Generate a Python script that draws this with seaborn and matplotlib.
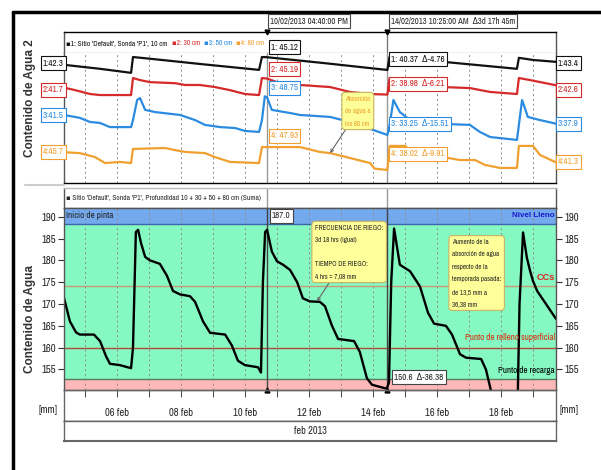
import numpy as np
import pandas as pd
import seaborn as sns
import matplotlib.dates as mdates
from matplotlib import pyplot as plt
from matplotlib import font_manager
from matplotlib.lines import Line2D

# time = fractional day of February 2013
t_10 = [4.34, 5.47, 6.44, 6.50, 7.00, 8.60, 10.44, 10.53, 10.69, 12.50, 14.45, 14.52,
        16.20, 18.50, 18.56, 19.00, 19.72]
v_10 = [42.3, 40.8, 39.3, 45.2, 44.6, 42.6, 40.4, 45.2, 45.12, 42.9, 40.37, 45.3,
        43.4, 40.8, 44.9, 44.1, 43.4]

t_30 = [4.34, 4.69, 5.16, 5.47, 6.44, 6.50, 6.72, 7.03, 7.81, 8.13, 8.59, 9.06, 9.53,
        10.00, 10.44, 10.53, 10.69, 11.09, 11.72, 12.66, 13.28, 13.91, 14.45, 14.52,
        14.84, 15.47, 16.19, 17.03, 17.66, 18.50, 18.56, 18.91, 19.72]
v_30 = [41.7, 40.7, 39.2, 38.8, 38.8, 45.4, 44.6, 43.8, 43.4, 42.7, 42.7, 41.9, 40.7,
        39.2, 38.8, 45.4, 45.19, 43.4, 42.7, 41.9, 40.0, 39.2, 38.98, 45.4,
        44.6, 43.1, 41.9, 41.5, 40.0, 39.2, 45.4, 44.6, 42.6]

t_50 = [4.34, 4.84, 5.16, 5.47, 5.78, 6.44, 6.50, 6.63, 6.72, 6.88, 7.19, 7.97, 8.44,
        8.75, 9.22, 9.69, 10.00, 10.44, 10.53, 10.62, 10.69, 10.84, 11.41, 11.72, 12.66,
        13.28, 13.75, 14.45, 14.52, 14.64, 14.84, 15.16, 16.19, 17.03, 17.34, 17.66,
        18.50, 18.56, 18.66, 18.84, 19.22, 19.72]
v_50 = [41.5, 40.3, 38.6, 38.2, 36.5, 36.5, 39.4, 47.7, 48.5, 43.6, 42.7, 41.5, 39.4,
        37.4, 36.5, 36.1, 34.9, 34.5, 39.4, 49.2, 48.75, 43.6, 42.3, 41.5, 40.7,
        38.6, 36.5, 33.25, 37.4, 47.7, 42.7, 39.4, 37.8, 37.4, 34.5, 32.4,
        31.2, 37.4, 47.7, 40.7, 39.4, 37.9]

t_80 = [4.34, 4.84, 5.31, 5.63, 6.09, 6.44, 6.50, 7.50, 7.81, 8.13, 8.75, 9.06, 9.53,
        10.44, 10.53, 11.72, 12.34, 12.66, 13.28, 13.91, 14.05, 14.45, 14.52, 15.00,
        15.22, 16.19, 16.72, 17.19, 17.50, 17.97, 18.50, 18.56, 19.00, 19.22, 19.72]
v_80 = [45.7, 45.3, 43.6, 41.0, 41.5, 41.0, 47.1, 47.5, 46.6, 45.8, 45.3, 43.6, 41.5,
        41.0, 47.9, 47.9, 45.8, 45.3, 43.2, 41.0, 38.6, 38.02, 48.4, 48.4,
        45.8, 43.6, 42.3, 42.3, 40.2, 38.9, 38.9, 48.4, 48.4, 44.5, 41.3]

t_sum = [4.34, 4.53, 4.72, 4.84, 5.28, 5.47, 5.66, 5.78, 6.09, 6.44,
         6.50, 6.59, 6.66, 6.75, 6.88, 7.03, 7.34, 7.56, 7.75, 7.97,
         8.28, 8.44, 8.69, 8.91, 9.38, 9.59, 9.78, 10.00, 10.41, 10.50,
         10.56, 10.63, 10.69, 10.84, 11.00, 11.19, 11.41, 11.63, 11.81, 12.03,
         12.34, 12.50, 12.72, 12.91, 13.41, 13.59, 13.81, 13.97, 14.43, 14.50,
         14.57, 14.66, 14.84, 15.16, 15.47, 15.72, 15.91, 16.28, 16.47, 16.72,
         16.91, 17.38, 17.53, 17.66, 17.75, 18.52, 18.58, 18.69, 18.81, 18.91,
         19.00, 19.13, 19.38, 19.72]
v_sum = [171.5, 166.0, 163.5, 163.0, 163.0, 161.5, 158.0, 156.3, 156.0, 155.3,
         160.0, 186.5, 187.0, 184.0, 180.8, 180.0, 179.2, 176.5, 173.0, 172.2,
         171.8, 170.5, 166.0, 163.4, 163.0, 160.5, 157.0, 156.0, 155.5, 154.3,
         175.0, 186.5, 187.0, 182.0, 179.8, 179.0, 177.8, 175.0, 171.3, 170.6,
         170.5, 169.5, 165.0, 162.0, 161.5, 159.0, 153.0, 151.5, 150.6, 152.0,
         175.0, 187.3, 179.0, 177.5, 174.0, 168.0, 165.5, 165.0, 163.0, 158.5,
         157.7, 157.4, 155.0, 151.0, 148.0, 147.0, 170.0, 186.4, 180.6, 177.6,
         175.3, 173.0, 170.3, 166.6]

depths = ["10 cm", "30 cm", "50 cm", "80 cm"]
first_read = [42.3, 41.7, 41.5, 45.7]
cursor1_read = [45.12, 45.19, 48.75, 47.93]
cursor2_read = [40.37, 38.98, 33.25, 38.02]
cursor_delta = [-4.76, -6.21, -15.51, -9.91]
last_read = [43.4, 42.6, 37.9, 41.3]
sum_cursor1, sum_cursor2, sum_delta = 187.0, 150.6, -36.38

cursor1_day = 10 + (16 + 40 / 60) / 24
cursor2_day = 14 + (10 + 25 / 60) / 24

# thresholds of the sum panel (mm)
recarga, relleno, ccs, lleno = 152.8, 160.0, 174.1, 188.4

# ---------------- style / layout ----------------
sns.set_style("white")

# look for a narrow face (the original uses Arial Narrow)
NARROW, STRETCH, K = "Liberation Sans", "normal", 0.82
for f in font_manager.fontManager.ttflist:
    st = str(f.stretch)
    if "Narrow" in f.name or "Condensed" in f.name or st in ("condensed", "semi-condensed", "extra-condensed"):
        NARROW, STRETCH, K = f.name, st if not st.isdigit() else "normal", 1.0
        if "Narrow" in f.name:
            break
plt.rcParams["font.family"] = [NARROW, "DejaVu Sans"]
plt.rcParams["font.stretch"] = STRETCH
BOLD = ["Liberation Sans", "DejaVu Sans"]

colors = ["#111111", "#D42A2A", "#2B8BE0", "#F0A030"]
# y range of each depth trace inside the top panel (own scale per trace)
top_ylims = [(-1.8, 46.7), (4.7, 55.1), (13.4, 67.1), (32.4, 88.5)]

W, H = 601, 470
fig = plt.figure(figsize=(W / 100, H / 100), dpi=100)


def rect(x0, y0, x1, y1):
    return [x0 / W, 1 - y1 / H, (x1 - x0) / W, (y1 - y0) / H]


def fx(x):
    return x / W


def fy(y):
    return 1 - y / H


def days(d):
    return pd.Timestamp("2013-02-01") + pd.to_timedelta(np.asarray(d, dtype=float) - 1.0, unit="D")


XLIM = (days(4.344), days(19.72))
C1, C2 = days(cursor1_day), days(cursor2_day)
grid_kw = dict(color="#8a8a8a", linestyle=(0, (2, 3)), linewidth=0.7)


def frame(ax, color="#555555"):
    for s in ax.spines.values():
        s.set_color(color)
        s.set_linewidth(1)
    ax.set_xticks([])
    ax.set_yticks([])
    ax.set_xlim(*XLIM)


# ---------------- top panel ----------------
ax_tl = fig.add_axes(rect(64, 32, 556, 53))
frame(ax_tl)
ax_tl.spines["top"].set_color("black")
ax_tl.spines["bottom"].set_color("#bbbbbb")
ax_tl.set_ylim(0, 1)
ax_tl.axvline(C2, color="#777777", lw=1)
ax_tl.plot([C1, C2], [1, 1], "v", ms=3.5, color="black", clip_on=False)

ax_top = fig.add_axes(rect(64, 53, 556, 183))
frame(ax_top)
ax_top.spines["top"].set_visible(False)
ax_top.spines["bottom"].set_color("black")
ax_top.xaxis.set_major_locator(mdates.DayLocator())
ax_top.tick_params(bottom=False, labelbottom=False)
ax_top.grid(axis="x", **grid_kw)
ax_top.axvline(C1, color="#999999", lw=1)
ax_top.axvline(C2, color="#999999", lw=1)

for t, v, c, lim in zip([t_10, t_30, t_50, t_80], [v_10, v_30, v_50, v_80], colors, top_ylims):
    axk = ax_top.twinx()
    df = pd.DataFrame({"time": days(t), "value": v})
    sns.lineplot(data=df, x="time", y="value", ax=axk, color=c, linewidth=1.6)
    axk.set_ylim(*lim)
    axk.set_xlim(*XLIM)
    axk.axis("off")
ax80 = axk

# legend of the top panel, items chained one after the other
prev = fig.text(fx(66), fy(43), f"\u25aa1: Sitio 'Default', Sonda 'P1', {depths[0]}", color=colors[0],
                fontsize=5.4 * K, va="center", ha="left")
for i in range(1, 4):
    prev = ax_tl.annotate(f"\u25aa{i + 1}: {depths[i]}", xy=(1, 0.5), xycoords=prev, xytext=(3, 0),
                          textcoords="offset points", color=colors[i], fontsize=5.4 * K, va="center")

# value labels of the depth traces
box = lambda ec: dict(boxstyle="square,pad=0.25", fc="white", ec=ec, lw=0.8)
left_y, c1_y, c2_y, right_y = [63, 90, 115, 152], [47, 69, 88, 136], [59, 84, 124, 154], [63, 90, 124, 162]
lab = 6.5 * K
for i, c in enumerate(colors):
    n = i + 1
    fig.text(fx(43), fy(left_y[i]), f"{n}:{first_read[i]:g}", color=c, fontsize=lab, va="center", bbox=box(c))
    fig.text(fx(271), fy(c1_y[i]), f"{n}: {cursor1_read[i]:.2f}", color=c, fontsize=lab, va="center",
             bbox=box(c))
    fig.text(fx(391), fy(c2_y[i]), f"{n}: {cursor2_read[i]:.2f}  \u0394{cursor_delta[i]:.2f}", color=c,
             fontsize=lab, va="center", bbox=box(c))
    fig.text(fx(558), fy(right_y[i]), f"{n}:{last_read[i]:g}", color=c, fontsize=lab, va="center",
             bbox=box(c))

fig.text(fx(270), fy(21), "10/02/2013 04:40:00 PM", fontsize=6.2 * K, va="center", bbox=box("#444444"))
fig.text(fx(391), fy(21), "14/02/2013 10:25:00 AM  \u03943d 17h 45m", fontsize=6.2 * K, va="center",
         bbox=box("#444444"))

note = dict(boxstyle="round,pad=0.45,rounding_size=0.5", fc="#FFFF99", ec="#C8B464", lw=0.8)
ax80.annotate("Absorción\nde agua a\nlos 80 cm", xy=(days(12.66), 45.3), xytext=(fx(345), fy(111)),
              textcoords="figure fraction", color="#E8A030", fontsize=5.0 * K, va="center", ha="left",
              linespacing=2.3, bbox=note,
              arrowprops=dict(arrowstyle="->", color="#666666", lw=0.8, shrinkA=0, shrinkB=0))

# ---------------- bottom panel ----------------
ax_bl = fig.add_axes(rect(64, 188, 556, 208))
frame(ax_bl)
ax_bl.spines["top"].set_color("#bbbbbb")
ax_bl.axvline(C1, color="#999999", lw=1)
ax_bl.axvline(C2, color="#999999", lw=1)
fig.text(fx(66), fy(198), "\u25aa Sitio 'Default', Sonda 'P1', Profundidad 10 + 30 + 50 + 80 cm (Suma)",
         fontsize=5.4 * K, va="center", ha="left")

ax_bot = fig.add_axes(rect(64, 208, 556, 390))
ax_bot.axhspan(100, recarga, color="#FFB8B8", lw=0, zorder=0.1)
ax_bot.axhspan(recarga, lleno, color="#86F8C2", lw=0, zorder=0.1)
ax_bot.axhspan(lleno, 250, color="#74A9EE", lw=0, zorder=0.1)
ax_bot.axhline(lleno, color="#3C64A8", lw=1, zorder=0.6)
ax_bot.axhline(ccs, color="#C89A78", lw=1, zorder=0.6)
ax_bot.axhline(relleno, color="#B04A3A", lw=1, zorder=0.6)
ax_bot.axhline(recarga, color="#5C7A60", lw=1, zorder=0.6)
ax_bot.axvline(C1, color="#444444", lw=1)
ax_bot.axvline(C2, color="#444444", lw=1)

df_sum = pd.DataFrame({"time": days(t_sum), "value": v_sum})
sns.lineplot(data=df_sum, x="time", y="value", ax=ax_bot, color="black", linewidth=1.7)
ax_bot.plot([C1, C2], [0, 0], "^", ms=3.5, color="black", clip_on=False,
            transform=ax_bot.get_xaxis_transform())

ax_bot.set_xlim(*XLIM)
ax_bot.set_ylim(150.3, 192)
ax_bot.set_xlabel("")
ax_bot.set_ylabel("")
ax_bot.set_yticks(range(155, 191, 5))
ax_bot.xaxis.set_major_locator(mdates.DayLocator(bymonthday=range(6, 20, 2)))
ax_bot.xaxis.set_minor_locator(mdates.DayLocator())
ax_bot.xaxis.set_major_formatter(mdates.DateFormatter("%d feb"))
ax_bot.grid(axis="x", which="both", **grid_kw)
ax_bot.tick_params(axis="y", left=True, right=True, labelleft=True, labelright=True, length=4,
                   width=0.8, color="#333333", labelsize=7.8 * K, pad=2)
ax_bot.tick_params(axis="x", which="both", bottom=True, length=5, width=0.8, color="#555555",
                   labelsize=7.6 * K, pad=8)
for s in ax_bot.spines.values():
    s.set_color("#555555")
    s.set_linewidth(1)

yx = ax_bot.get_yaxis_transform()
ax_bot.text(0.004, 190.2, "Inicio de pinta", transform=yx, fontsize=6.6 * K, va="center", ha="left")
ax_bot.text(0.998, 190.2, "Nivel Lleno", transform=yx, fontsize=5.8, va="center", ha="right",
            color="#1A1ACC", fontweight="bold", family=BOLD)
ax_bot.text(0.998, 176.0, "CCs", transform=yx, fontsize=6.6, va="center", ha="right", color="#E02020",
            fontweight="bold", family=BOLD)
ax_bot.text(0.998, 162.3, "Punto de relleno superficial", transform=yx, fontsize=6.5 * K, va="center",
            ha="right", color="#D83010")
ax_bot.text(0.998, 154.8, "Punto de recarga", transform=yx, fontsize=6.5 * K, va="center", ha="right",
            color="black")

fig.text(fx(272), fy(216), f"{sum_cursor1:.1f}", fontsize=lab, va="center", bbox=box("#444444"))
fig.text(fx(394), fy(377), f"{sum_cursor2:.1f}  \u0394{sum_delta:.2f}", fontsize=lab, va="center",
         bbox=box("#444444"))

ax_bot.annotate("FRECUENCIA DE RIEGO:\n3d 18 hrs (igual)\n\nTIEMPO DE RIEGO:\n4 hrs = 7,08 mm",
                xy=(days(12.25), 170.6), xytext=(fx(315), fy(252)), textcoords="figure fraction",
                fontsize=5.0 * K, va="center", ha="left", linespacing=2.25, bbox=note,
                arrowprops=dict(arrowstyle="->", color="#666666", lw=0.8, shrinkA=0, shrinkB=0))
fig.text(fx(452), fy(273), "Aumento de la\nabsorción de agua\nrespecto de la\ntemporada pasada:\n"
         "de 13,5 mm a\n36,38 mm", fontsize=5.0 * K, va="center", ha="left", linespacing=2.3, bbox=note)

# date axis boxes
ax_date = fig.add_axes(rect(64, 390, 556, 421))
frame(ax_date, "#666666")
ax_date.patch.set_alpha(0)
ax_date.spines["bottom"].set_color("black")
ax_month = fig.add_axes(rect(64, 421, 556, 441))
frame(ax_month, "#666666")
ax_month.spines["bottom"].set_linewidth(1.5)
ax_month.text(0.5, 0.5, "feb 2013", transform=ax_month.transAxes, fontsize=7.4 * K, ha="center", va="center")

# axis titles and units
title_kw = dict(rotation=90, ha="center", va="center", fontsize=8.5, fontweight="bold", color="#333333",
                family=BOLD, fontstretch="normal")
fig.text(fx(30), fy(98), "Contenido de Agua 2", **title_kw)
fig.text(fx(30), fy(319), "Contenido de Agua", **title_kw)
fig.text(fx(48), fy(410), "[mm]", fontsize=7.5 * K, ha="center", va="center")
fig.text(fx(569), fy(410), "[mm]", fontsize=7.5 * K, ha="center", va="center")

# screenshot frame and separator
fig.add_artist(Line2D([fx(13), fx(13)], [fy(12), 0], color="black", lw=2.5))
fig.add_artist(Line2D([fx(13), 1], [fy(12), fy(12)], color="black", lw=2.5))
fig.add_artist(Line2D([fx(25), fx(64)], [fy(185), fy(185)], color="#cccccc", lw=1.5))

fig.savefig("out.png", dpi=100)
